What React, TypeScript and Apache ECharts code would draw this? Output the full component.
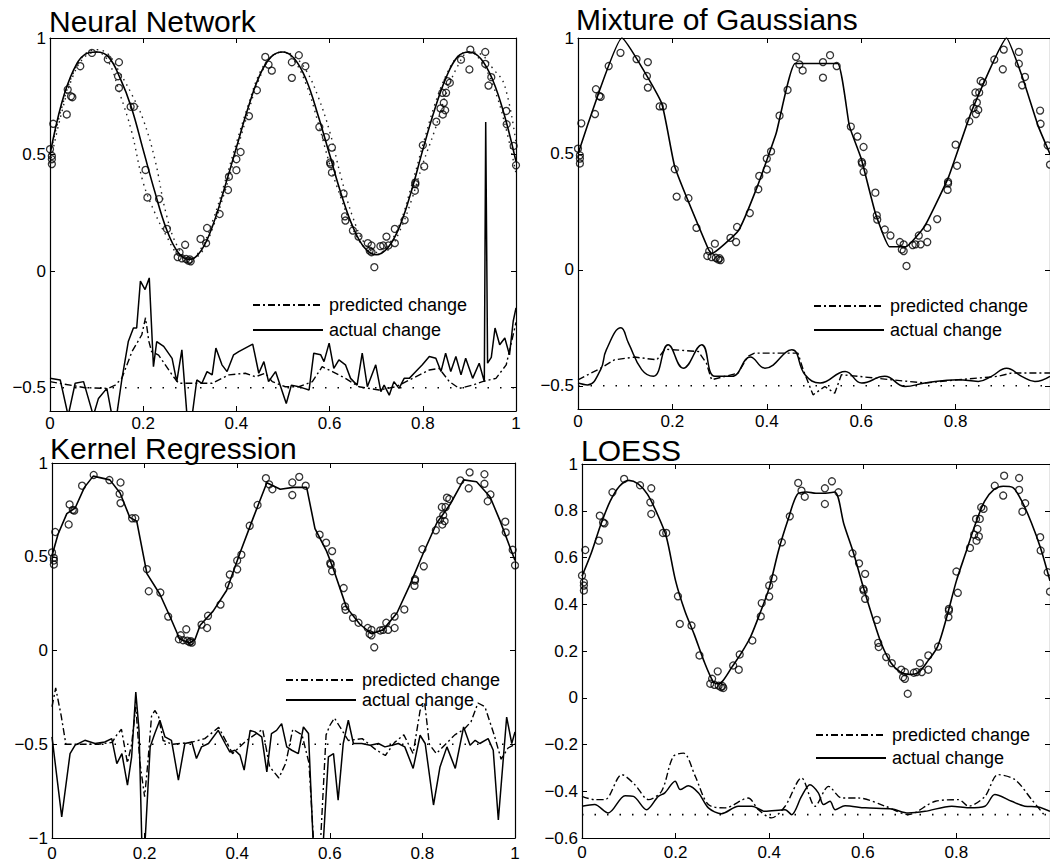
import React, { useEffect, useRef } from 'react';
import * as echarts from 'echarts';

// ---------- tick values ----------
const X_TICKS = [0, 0.2, 0.4, 0.6, 0.8, 1];
const X_LABELS_CUT = [0, 0.2, 0.4, 0.6, 0.8];
const Y_TICKS_HALF = [-0.5, 0, 0.5, 1];
const Y_TICKS_KERNEL = [-1, -0.5, 0, 0.5, 1];
const Y_TICKS_LOESS = [-0.6, -0.4, -0.2, 0, 0.2, 0.4, 0.6, 0.8, 1];

// ---------- observed data (same in every panel) ----------
const OBS_X = [0.0, 0.004, 0.004, 0.004, 0.007, 0.036, 0.038, 0.045, 0.048, 0.065, 0.09, 0.124, 0.148, 0.146, 0.148, 0.173, 0.18, 0.205, 0.209, 0.234, 0.251, 0.278, 0.274, 0.29, 0.283, 0.292, 0.297, 0.302, 0.3, 0.323, 0.335, 0.337, 0.364, 0.382, 0.384, 0.4, 0.4, 0.409, 0.427, 0.444, 0.462, 0.469, 0.476, 0.519, 0.519, 0.534, 0.548, 0.578, 0.592, 0.605, 0.601, 0.602, 0.605, 0.63, 0.633, 0.634, 0.65, 0.662, 0.682, 0.686, 0.69, 0.69, 0.696, 0.709, 0.715, 0.722, 0.726, 0.74, 0.74, 0.761, 0.783, 0.784, 0.784, 0.8, 0.803, 0.829, 0.838, 0.843, 0.845, 0.848, 0.842, 0.85, 0.853, 0.858, 0.882, 0.9, 0.902, 0.934, 0.934, 0.947, 0.941, 0.979, 0.98, 0.995, 1.0];
const OBS_Y = [0.523, 0.494, 0.48, 0.459, 0.632, 0.672, 0.779, 0.75, 0.746, 0.879, 0.936, 0.909, 0.896, 0.836, 0.786, 0.705, 0.705, 0.434, 0.316, 0.309, 0.181, 0.081, 0.06, 0.113, 0.055, 0.052, 0.045, 0.042, 0.05, 0.138, 0.12, 0.185, 0.245, 0.348, 0.405, 0.433, 0.48, 0.511, 0.665, 0.776, 0.919, 0.886, 0.86, 0.896, 0.829, 0.926, 0.879, 0.618, 0.575, 0.53, 0.466, 0.459, 0.423, 0.333, 0.235, 0.217, 0.174, 0.148, 0.12, 0.088, 0.081, 0.11, 0.017, 0.107, 0.11, 0.148, 0.11, 0.12, 0.181, 0.219, 0.345, 0.373, 0.38, 0.54, 0.449, 0.641, 0.698, 0.672, 0.722, 0.69, 0.765, 0.765, 0.815, 0.808, 0.907, 0.865, 0.95, 0.94, 0.889, 0.832, 0.796, 0.687, 0.63, 0.537, 0.454];

// ---------- zero-change baseline ----------
const BASE_X = [0, 1];
const BASE_Y = [-0.5, -0.5];

// ---------- Neural Network ----------
const NN_FIT_X = [0, 0.025, 0.05, 0.075, 0.1, 0.125, 0.15, 0.175, 0.2, 0.225, 0.25, 0.275, 0.3, 0.325, 0.35, 0.375, 0.4, 0.425, 0.45, 0.475, 0.5, 0.525, 0.55, 0.575, 0.6, 0.625, 0.65, 0.675, 0.7, 0.725, 0.75, 0.775, 0.8, 0.825, 0.85, 0.875, 0.9, 0.925, 0.95, 0.975, 1.0];
const NN_FIT_Y = [0.5, 0.72, 0.86, 0.93, 0.94, 0.92, 0.83, 0.7, 0.52, 0.34, 0.18, 0.08, 0.05, 0.09, 0.2, 0.36, 0.53, 0.7, 0.84, 0.92, 0.94, 0.91, 0.82, 0.67, 0.5, 0.33, 0.19, 0.1, 0.07, 0.1, 0.19, 0.34, 0.52, 0.69, 0.83, 0.92, 0.94, 0.91, 0.82, 0.67, 0.47];
const NN_BAND_LO_Y = [0.46, 0.68, 0.84, 0.92, 0.94, 0.9, 0.76, 0.6, 0.38, 0.25, 0.15, 0.07, 0.05, 0.1, 0.22, 0.38, 0.55, 0.71, 0.85, 0.92, 0.94, 0.9, 0.8, 0.64, 0.46, 0.31, 0.18, 0.1, 0.07, 0.11, 0.2, 0.36, 0.54, 0.71, 0.84, 0.92, 0.94, 0.9, 0.8, 0.64, 0.42];
const NN_BAND_HI_Y = [0.5, 0.7, 0.85, 0.93, 0.95, 0.93, 0.85, 0.76, 0.65, 0.48, 0.24, 0.1, 0.05, 0.08, 0.19, 0.34, 0.51, 0.68, 0.83, 0.92, 0.94, 0.92, 0.86, 0.75, 0.6, 0.4, 0.23, 0.12, 0.08, 0.09, 0.17, 0.3, 0.46, 0.6, 0.76, 0.88, 0.94, 0.93, 0.87, 0.8, 0.55];
const NN_PRED_X = [0, 0.075, 0.125, 0.14, 0.154, 0.176, 0.197, 0.205, 0.212, 0.218, 0.233, 0.262, 0.276, 0.319, 0.348, 0.384, 0.419, 0.441, 0.462, 0.477, 0.505, 0.534, 0.563, 0.584, 0.606, 0.634, 0.663, 0.706, 0.742, 0.778, 0.814, 0.835, 0.857, 0.878, 0.907, 0.928, 0.957, 0.979, 1.0];
const NN_PRED_Y = [-0.474, -0.5, -0.503, -0.489, -0.46, -0.345, -0.273, -0.2, -0.3, -0.345, -0.36, -0.445, -0.481, -0.481, -0.481, -0.445, -0.438, -0.453, -0.438, -0.474, -0.496, -0.496, -0.474, -0.41, -0.431, -0.46, -0.496, -0.51, -0.496, -0.46, -0.424, -0.417, -0.474, -0.503, -0.489, -0.474, -0.46, -0.402, -0.22];
const NN_ACT_X = [0, 0.022, 0.039, 0.054, 0.072, 0.093, 0.104, 0.122, 0.133, 0.143, 0.154, 0.168, 0.179, 0.186, 0.194, 0.204, 0.213, 0.222, 0.229, 0.244, 0.262, 0.272, 0.283, 0.294, 0.305, 0.315, 0.326, 0.337, 0.348, 0.356, 0.369, 0.38, 0.394, 0.405, 0.419, 0.435, 0.448, 0.459, 0.469, 0.484, 0.495, 0.507, 0.518, 0.534, 0.545, 0.556, 0.566, 0.581, 0.588, 0.599, 0.609, 0.62, 0.634, 0.645, 0.659, 0.67, 0.681, 0.699, 0.71, 0.717, 0.728, 0.738, 0.749, 0.76, 0.771, 0.785, 0.799, 0.814, 0.828, 0.839, 0.849, 0.86, 0.871, 0.882, 0.892, 0.907, 0.921, 0.932, 0.935, 0.939, 0.947, 0.955, 0.965, 0.976, 0.986, 0.994, 1.0];
const NN_ACT_Y = [-0.46, -0.467, -0.62, -0.481, -0.474, -0.62, -0.546, -0.503, -0.62, -0.62, -0.467, -0.302, -0.244, -0.244, -0.043, -0.079, -0.029, -0.41, -0.302, -0.323, -0.374, -0.474, -0.338, -0.62, -0.62, -0.467, -0.481, -0.431, -0.445, -0.33, -0.402, -0.431, -0.359, -0.345, -0.33, -0.313, -0.438, -0.388, -0.474, -0.431, -0.496, -0.568, -0.489, -0.496, -0.503, -0.51, -0.352, -0.359, -0.388, -0.309, -0.417, -0.381, -0.402, -0.46, -0.489, -0.352, -0.496, -0.402, -0.517, -0.489, -0.532, -0.474, -0.503, -0.46, -0.46, -0.431, -0.402, -0.366, -0.374, -0.431, -0.352, -0.431, -0.366, -0.445, -0.374, -0.46, -0.395, -0.474, 0.64, -0.395, -0.37, -0.244, -0.316, -0.287, -0.359, -0.215, -0.158];

// ---------- Mixture of Gaussians ----------
const MG_FIT_X = [0, 0.093, 0.177, 0.205, 0.276, 0.283, 0.34, 0.38, 0.42, 0.46, 0.55, 0.575, 0.6, 0.63, 0.66, 0.695, 0.735, 0.785, 0.835, 0.908, 0.94, 0.975, 1.0];
const MG_FIT_Y = [0.5, 1.0, 0.72, 0.445, 0.09, 0.07, 0.17, 0.36, 0.59, 0.89, 0.89, 0.62, 0.48, 0.245, 0.1, 0.1, 0.19, 0.4, 0.69, 1.0, 0.84, 0.62, 0.5];
const MG_PRED_X = [0, 0.048, 0.077, 0.12, 0.167, 0.184, 0.255, 0.272, 0.283, 0.339, 0.36, 0.374, 0.466, 0.477, 0.498, 0.523, 0.544, 0.558, 0.593, 0.664, 0.735, 0.806, 0.89, 0.918, 1.0];
const MG_PRED_Y = [-0.474, -0.424, -0.388, -0.376, -0.388, -0.342, -0.352, -0.402, -0.474, -0.445, -0.373, -0.359, -0.359, -0.43, -0.539, -0.503, -0.532, -0.452, -0.459, -0.474, -0.488, -0.474, -0.459, -0.445, -0.445];
const MG_ACT_X = [0, 0.02, 0.048, 0.06, 0.091, 0.107, 0.135, 0.16, 0.191, 0.223, 0.262, 0.29, 0.326, 0.365, 0.396, 0.453, 0.481, 0.513, 0.566, 0.601, 0.65, 0.693, 0.735, 0.806, 0.848, 0.876, 0.908, 0.94, 0.968, 1.0];
const MG_ACT_Y = [-0.488, -0.496, -0.43, -0.345, -0.25, -0.316, -0.43, -0.459, -0.323, -0.424, -0.323, -0.459, -0.459, -0.376, -0.424, -0.345, -0.452, -0.488, -0.438, -0.488, -0.459, -0.503, -0.488, -0.474, -0.481, -0.459, -0.424, -0.459, -0.481, -0.459];

// ---------- Kernel Regression ----------
const KR_FIT_X = [0, 0.013, 0.032, 0.05, 0.07, 0.089, 0.125, 0.147, 0.168, 0.183, 0.205, 0.233, 0.255, 0.276, 0.298, 0.309, 0.32, 0.348, 0.377, 0.406, 0.435, 0.464, 0.493, 0.521, 0.55, 0.568, 0.593, 0.607, 0.636, 0.665, 0.69, 0.715, 0.745, 0.773, 0.802, 0.831, 0.86, 0.889, 0.917, 0.946, 0.968, 1.0];
const KR_FIT_Y = [0.505, 0.62, 0.73, 0.76, 0.87, 0.93, 0.91, 0.84, 0.71, 0.69, 0.41, 0.3, 0.18, 0.06, 0.04, 0.06, 0.135, 0.21, 0.32, 0.52, 0.71, 0.895, 0.86, 0.87, 0.87, 0.65, 0.53, 0.44, 0.23, 0.14, 0.09, 0.11, 0.2, 0.35, 0.52, 0.68, 0.78, 0.91, 0.9, 0.82, 0.69, 0.48];
const KR_PRED_X = [0, 0.008, 0.02, 0.03, 0.06, 0.1, 0.13, 0.14, 0.15, 0.163, 0.172, 0.181, 0.19, 0.2, 0.207, 0.215, 0.222, 0.23, 0.24, 0.26, 0.3, 0.33, 0.36, 0.39, 0.42, 0.455, 0.47, 0.49, 0.505, 0.52, 0.54, 0.555, 0.565, 0.58, 0.592, 0.6, 0.61, 0.62, 0.64, 0.67, 0.7, 0.72, 0.74, 0.76, 0.78, 0.795, 0.805, 0.815, 0.83, 0.85, 0.87, 0.89, 0.905, 0.92, 0.935, 0.955, 0.97, 0.985, 1.0];
const KR_PRED_Y = [-0.3, -0.2, -0.35, -0.5, -0.5, -0.5, -0.49, -0.45, -0.42, -0.6, -0.5, -0.3, -0.6, -0.78, -0.6, -0.35, -0.32, -0.35, -0.48, -0.5, -0.49, -0.47, -0.41, -0.55, -0.48, -0.42, -0.62, -0.68, -0.6, -0.42, -0.45, -0.6, -1.02, -1.02, -0.45, -0.4, -0.36, -0.4, -0.48, -0.47, -0.53, -0.56, -0.49, -0.45, -0.55, -0.32, -0.28, -0.5, -0.55, -0.5, -0.45, -0.42, -0.38, -0.28, -0.3, -0.45, -0.58, -0.52, -0.5];
const KR_ACT_X = [0, 0.021, 0.039, 0.05, 0.071, 0.093, 0.114, 0.129, 0.14, 0.151, 0.163, 0.172, 0.181, 0.188, 0.194, 0.201, 0.212, 0.222, 0.233, 0.244, 0.258, 0.273, 0.287, 0.302, 0.312, 0.323, 0.338, 0.359, 0.374, 0.384, 0.395, 0.406, 0.415, 0.428, 0.438, 0.453, 0.464, 0.474, 0.485, 0.496, 0.507, 0.518, 0.532, 0.543, 0.554, 0.564, 0.586, 0.597, 0.608, 0.618, 0.629, 0.64, 0.651, 0.669, 0.687, 0.705, 0.719, 0.734, 0.748, 0.762, 0.78, 0.795, 0.806, 0.824, 0.838, 0.853, 0.871, 0.889, 0.903, 0.914, 0.924, 0.942, 0.953, 0.964, 0.982, 0.993, 1.0];
const KR_ACT_Y = [-0.461, -0.887, -0.55, -0.505, -0.479, -0.496, -0.488, -0.47, -0.603, -0.55, -0.718, -0.567, -0.222, -0.426, -1.02, -1.02, -0.514, -0.443, -0.372, -0.461, -0.479, -0.691, -0.496, -0.488, -0.576, -0.514, -0.496, -0.426, -0.496, -0.541, -0.532, -0.558, -0.638, -0.426, -0.434, -0.461, -0.647, -0.443, -0.426, -0.39, -0.514, -0.532, -0.55, -0.408, -0.443, -1.02, -1.02, -0.567, -0.55, -0.798, -0.496, -0.372, -0.496, -0.496, -0.505, -0.496, -0.514, -0.505, -0.496, -0.514, -0.629, -0.452, -0.496, -0.824, -0.621, -0.514, -0.629, -0.408, -0.505, -0.479, -0.496, -0.47, -0.532, -0.904, -0.355, -0.496, -0.434];

// ---------- LOESS ----------
const LO_FIT_X = [0, 0.02, 0.04, 0.06, 0.08, 0.1, 0.12, 0.14, 0.16, 0.18, 0.2, 0.22, 0.24, 0.26, 0.28, 0.29, 0.3, 0.32, 0.34, 0.36, 0.38, 0.4, 0.42, 0.44, 0.46, 0.48, 0.5, 0.52, 0.54, 0.56, 0.58, 0.6, 0.62, 0.64, 0.66, 0.68, 0.7, 0.72, 0.74, 0.76, 0.78, 0.8, 0.82, 0.84, 0.86, 0.88, 0.9, 0.92, 0.94, 0.96, 0.98, 1];
const LO_FIT_Y = [0.52, 0.62, 0.74, 0.84, 0.905, 0.93, 0.915, 0.87, 0.79, 0.69, 0.5, 0.37, 0.27, 0.16, 0.07, 0.06, 0.07, 0.13, 0.19, 0.26, 0.36, 0.47, 0.63, 0.76, 0.87, 0.88, 0.875, 0.875, 0.88, 0.74, 0.62, 0.48, 0.35, 0.23, 0.15, 0.11, 0.1, 0.11, 0.16, 0.22, 0.35, 0.5, 0.62, 0.74, 0.84, 0.89, 0.905, 0.9, 0.84, 0.75, 0.64, 0.5];
const LO_PRED_X = [0, 0.027, 0.049, 0.085, 0.113, 0.142, 0.17, 0.195, 0.217, 0.242, 0.27, 0.306, 0.355, 0.377, 0.405, 0.434, 0.469, 0.498, 0.527, 0.555, 0.591, 0.648, 0.697, 0.755, 0.805, 0.826, 0.861, 0.889, 0.925, 0.961, 0.99];
const LO_PRED_Y = [-0.422, -0.436, -0.436, -0.329, -0.372, -0.436, -0.4, -0.251, -0.237, -0.336, -0.457, -0.471, -0.429, -0.479, -0.514, -0.464, -0.343, -0.464, -0.379, -0.429, -0.429, -0.464, -0.5, -0.443, -0.436, -0.464, -0.422, -0.329, -0.35, -0.436, -0.507];
const LO_ACT_X = [0, 0.027, 0.056, 0.092, 0.11, 0.138, 0.163, 0.177, 0.199, 0.21, 0.227, 0.249, 0.27, 0.298, 0.334, 0.363, 0.391, 0.434, 0.448, 0.469, 0.487, 0.505, 0.516, 0.53, 0.541, 0.562, 0.605, 0.662, 0.697, 0.733, 0.79, 0.826, 0.861, 0.882, 0.918, 0.946, 0.975, 1.0];
const LO_ACT_Y = [-0.464, -0.457, -0.493, -0.419, -0.422, -0.479, -0.422, -0.407, -0.357, -0.393, -0.376, -0.407, -0.471, -0.496, -0.464, -0.464, -0.486, -0.479, -0.5, -0.422, -0.372, -0.407, -0.457, -0.443, -0.479, -0.462, -0.471, -0.476, -0.493, -0.486, -0.464, -0.471, -0.464, -0.414, -0.443, -0.464, -0.467, -0.486];

const TITLES = ['Neural Network', 'Mixture of Gaussians', 'Kernel Regression', 'LOESS'];
const LEGEND_NAMES = ['predicted change', 'actual change'];

const FONT = '"Liberation Sans", Arial, Helvetica, sans-serif';

const pairs = (xs: number[], ys: number[]) => xs.map((x, i) => [x, ys[i]]);
const fmt = (v: number) => (v < 0 ? '\u2212' + String(-v) : String(v));

type Smooth = number | false;
type Panel = {
  grid: { left: number; top: number; width: number; height: number };
  ymin: number;
  ymax: number;
  yTicks: number[];
  xLabels: number[];
  xMargin: number;
  title: { left: number; top: number };
  legend: { left: number; top: number; gap: number };
  fit: [number[], number[]];
  pred: [number[], number[]];
  act: [number[], number[]];
  smooth: { fit: Smooth; pred: Smooth; act: Smooth };
  bands?: number[][];
};

const PANELS: Panel[] = [
  {
    grid: { left: 50, top: 38, width: 466, height: 373 },
    ymin: -0.6, ymax: 1, yTicks: Y_TICKS_HALF, xLabels: X_TICKS, xMargin: 4,
    title: { left: 49, top: 6 },
    legend: { left: 252, top: 296, gap: 7 },
    fit: [NN_FIT_X, NN_FIT_Y], pred: [NN_PRED_X, NN_PRED_Y], act: [NN_ACT_X, NN_ACT_Y],
    smooth: { fit: 0.4, pred: false, act: false },
    bands: [NN_BAND_LO_Y, NN_BAND_HI_Y],
  },
  {
    grid: { left: 578, top: 38, width: 473, height: 371 },
    ymin: -0.6, ymax: 1, yTicks: Y_TICKS_HALF, xLabels: X_LABELS_CUT, xMargin: 4,
    title: { left: 576, top: 4 },
    legend: { left: 813, top: 297, gap: 6 },
    fit: [MG_FIT_X, MG_FIT_Y], pred: [MG_PRED_X, MG_PRED_Y], act: [MG_ACT_X, MG_ACT_Y],
    smooth: { fit: 0.12, pred: false, act: 0.45 },
  },
  {
    grid: { left: 52, top: 463, width: 463, height: 375 },
    ymin: -1, ymax: 1, yTicks: Y_TICKS_KERNEL, xLabels: X_TICKS, xMargin: 7,
    title: { left: 50, top: 433 },
    legend: { left: 285, top: 671, gap: 2 },
    fit: [KR_FIT_X, KR_FIT_Y], pred: [KR_PRED_X, KR_PRED_Y], act: [KR_ACT_X, KR_ACT_Y],
    smooth: { fit: false, pred: false, act: false },
  },
  {
    grid: { left: 582, top: 464, width: 468, height: 374 },
    ymin: -0.6, ymax: 1, yTicks: Y_TICKS_LOESS, xLabels: X_LABELS_CUT, xMargin: 6,
    title: { left: 581, top: 435 },
    legend: { left: 815, top: 726, gap: 5 },
    fit: [LO_FIT_X, LO_FIT_Y], pred: [LO_PRED_X, LO_PRED_Y], act: [LO_ACT_X, LO_ACT_Y],
    smooth: { fit: 0.3, pred: 0.3, act: 0.3 },
  },
];

const axisLine = { show: true, onZero: false, lineStyle: { color: '#000', width: 1.2 } };
const labelStyle = { color: '#000', fontSize: 17, fontFamily: FONT };
const noFill = { color: 'transparent', borderColor: 'transparent', borderWidth: 0 };

function buildOption() {
  const grid: any[] = [];
  const xAxis: any[] = [];
  const yAxis: any[] = [];
  const series: any[] = [];
  const title: any[] = [];
  const legend: any[] = [];

  PANELS.forEach((p, i) => {
    grid.push({ ...p.grid, containLabel: false });
    const tick = { show: true, inside: true, length: 5, lineStyle: { color: '#000', width: 1 } };
    xAxis.push({
      gridIndex: i, type: 'value', min: 0, max: 1, position: 'bottom',
      axisLine, splitLine: { show: false },
      axisTick: { ...tick, customValues: X_TICKS },
      axisLabel: { ...labelStyle, margin: p.xMargin, customValues: p.xLabels, formatter: fmt },
    });
    xAxis.push({
      gridIndex: i, type: 'value', min: 0, max: 1, position: 'top',
      axisLine, splitLine: { show: false },
      axisTick: { ...tick, customValues: X_TICKS },
      axisLabel: { show: false },
    });
    yAxis.push({
      gridIndex: i, type: 'value', min: p.ymin, max: p.ymax, position: 'left',
      axisLine, splitLine: { show: false },
      axisTick: { ...tick, customValues: p.yTicks },
      axisLabel: { ...labelStyle, margin: 4, customValues: p.yTicks, formatter: fmt },
    });
    yAxis.push({
      gridIndex: i, type: 'value', min: p.ymin, max: p.ymax, position: 'right',
      axisLine, splitLine: { show: false },
      axisTick: { ...tick, customValues: p.yTicks },
      axisLabel: { show: false },
    });
    const ax = { xAxisIndex: 2 * i, yAxisIndex: 2 * i };
    series.push({
      ...ax, type: 'line', name: 'baseline', data: pairs(BASE_X, BASE_Y), symbol: 'none', silent: true,
      itemStyle: noFill,
      lineStyle: { color: '#000', width: 1.6, type: [1.5, 11] },
    });
    if (p.bands) {
      p.bands.forEach((b, k) => {
        series.push({
          ...ax, type: 'line', name: 'band' + k, data: pairs(p.fit[0], b), symbol: 'none', silent: true,
          smooth: 0.4, itemStyle: noFill,
          lineStyle: { color: '#222', width: 1.4, type: [1.5, 4.5] },
        });
      });
    }
    series.push({
      ...ax, type: 'line', name: LEGEND_NAMES[0], data: pairs(p.pred[0], p.pred[1]), symbol: 'none',
      smooth: p.smooth.pred, itemStyle: noFill,
      lineStyle: { color: '#000', width: 1.4, type: [7, 3, 2, 3] },
    });
    series.push({
      ...ax, type: 'line', name: LEGEND_NAMES[1], data: pairs(p.act[0], p.act[1]), symbol: 'none',
      smooth: p.smooth.act, itemStyle: noFill,
      lineStyle: { color: '#000', width: 1.5, type: 'solid' },
    });
    series.push({
      ...ax, type: 'line', name: 'fit', data: pairs(p.fit[0], p.fit[1]), symbol: 'none',
      smooth: p.smooth.fit, itemStyle: noFill,
      lineStyle: { color: '#000', width: 1.6 },
    });
    series.push({
      ...ax, type: 'scatter', name: 'data', data: pairs(OBS_X, OBS_Y), symbol: 'circle', symbolSize: 7,
      itemStyle: { color: 'transparent', borderColor: '#000', borderWidth: 1.3 },
    });
    title.push({
      text: TITLES[i], left: p.title.left, top: p.title.top, padding: 0,
      textStyle: { fontSize: 30, fontWeight: 'normal', fontFamily: FONT, color: '#000' },
    });
    legend.push({
      data: LEGEND_NAMES, orient: 'vertical', left: p.legend.left, top: p.legend.top, padding: 0,
      itemWidth: 70, itemHeight: 14, itemGap: p.legend.gap, selectedMode: false,
      itemStyle: noFill,
      textStyle: { fontSize: 18, fontFamily: FONT, color: '#000', padding: [0, 0, 0, 1] },
    });
  });

  return {
    animation: false,
    backgroundColor: '#fff',
    title, legend, grid, xAxis, yAxis, series,
  };
}

export default function App() {
  const ref = useRef<HTMLDivElement>(null);
  useEffect(() => {
    if (!ref.current) return;
    const chart = echarts.init(ref.current, null, { renderer: 'svg' });
    chart.setOption(buildOption() as any);
    return () => chart.dispose();
  }, []);
  return (
    <div
      ref={ref}
      style={{ position: 'absolute', left: 0, top: 0, width: 1050, height: 863, background: '#fff' }}
    />
  );
}
